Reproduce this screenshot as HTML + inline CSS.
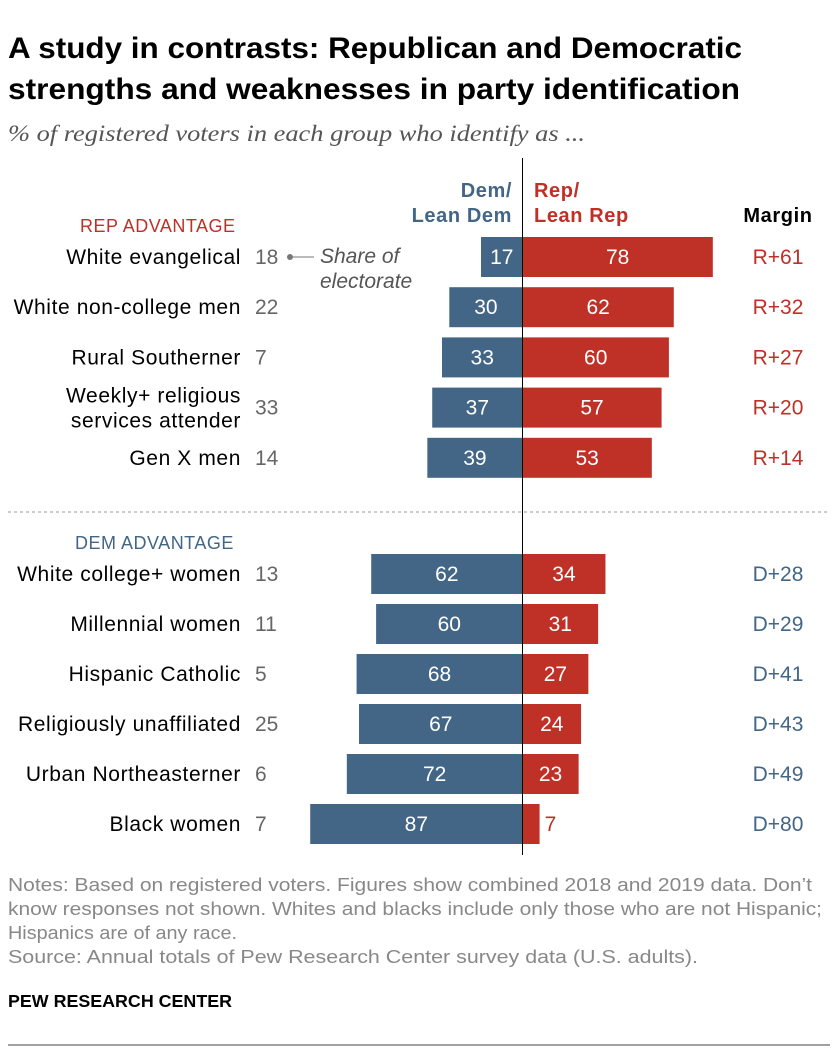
<!DOCTYPE html>
<html><head><meta charset="utf-8"><style>
body{margin:0;background:#fff;width:840px;height:1052px;overflow:hidden;font-family:"Liberation Sans",sans-serif}
</style></head><body>
<svg width="840" height="1052" xmlns="http://www.w3.org/2000/svg" id="chart">
<text x="8" y="58" font-size="30" font-weight="bold" fill="#000" textLength="734" lengthAdjust="spacingAndGlyphs">A study in contrasts: Republican and Democratic</text>
<text x="8" y="99" font-size="30" font-weight="bold" fill="#000" textLength="732" lengthAdjust="spacingAndGlyphs">strengths and weaknesses in party identification</text>
<text x="8" y="141" font-size="23" font-style="italic" fill="#555" font-family="Liberation Serif,serif" textLength="577" lengthAdjust="spacingAndGlyphs">% of registered voters in each group who identify as ...</text>
<text x="512" y="197" font-size="20" font-weight="bold" letter-spacing="0.6" fill="#436686" text-anchor="end">Dem/</text>
<text x="512" y="222" font-size="20" font-weight="bold" letter-spacing="0.6" fill="#436686" text-anchor="end">Lean Dem</text>
<text x="534" y="197" font-size="20" font-weight="bold" letter-spacing="0.6" fill="#bf3027">Rep/</text>
<text x="534" y="222" font-size="20" font-weight="bold" letter-spacing="0.6" fill="#bf3027">Lean Rep</text>
<text x="778" y="222" font-size="20" font-weight="bold" letter-spacing="0.6" fill="#000" text-anchor="middle">Margin</text>
<text x="80" y="232" font-size="18" letter-spacing="0.5" fill="#bf3027">REP ADVANTAGE</text>
<text x="75" y="549" font-size="18" letter-spacing="0.5" fill="#436686">DEM ADVANTAGE</text>
<line x1="8" y1="512" x2="830" y2="512" stroke="#999" stroke-dasharray="3,3"/>
<circle cx="290" cy="257" r="3" fill="#777"/>
<line x1="293" y1="257" x2="314" y2="257" stroke="#777"/>
<text x="320" y="263" font-size="21" font-style="italic" fill="#555">Share of</text>
<text x="320" y="288" font-size="21" font-style="italic" fill="#555">electorate</text>
<g id="bars"></g>
<line x1="522.5" y1="158" x2="522.5" y2="855" stroke="#000" stroke-width="1"/>
<line x1="8" y1="1045" x2="830" y2="1045" stroke="#444"/>
<text x="8" y="891" font-size="18.5" fill="#888" textLength="804" lengthAdjust="spacingAndGlyphs">Notes: Based on registered voters. Figures show combined 2018 and 2019 data. Don’t</text>
<text x="8" y="915" font-size="18.5" fill="#888" textLength="814" lengthAdjust="spacingAndGlyphs">know responses not shown. Whites and blacks include only those who are not Hispanic;</text>
<text x="8" y="939" font-size="18.5" fill="#888" textLength="229" lengthAdjust="spacingAndGlyphs">Hispanics are of any race.</text>
<text x="8" y="963" font-size="18.5" fill="#888" textLength="690" lengthAdjust="spacingAndGlyphs">Source: Annual totals of Pew Research Center survey data (U.S. adults).</text>
<text x="8" y="1007" font-size="17.5" font-weight="bold" fill="#000" textLength="224" lengthAdjust="spacingAndGlyphs">PEW RESEARCH CENTER</text>
</svg>
<script>
const groups=["White evangelical","White non-college men","Rural Southerner","Weekly+ religious|services attender","Gen X men","White college+ women","Millennial women","Hispanic Catholic","Religiously unaffiliated","Urban Northeasterner","Black women"];
const shares=[18,22,7,33,14,13,11,5,25,6,7];
const dem=[17,30,33,37,39,62,60,68,67,72,87];
const rep=[78,62,60,57,53,34,31,27,24,23,7];
const margins=["R+61","R+32","R+27","R+20","R+14","D+28","D+29","D+41","D+43","D+49","D+80"];
const NS="http://www.w3.org/2000/svg";
const g=document.getElementById('bars');
const cx=522.5, k=2.44;
function xs(v){return v*k;}
function rowTop(i){return i<5?237+i*50.2:554+(i-5)*50;}
function mk(tag,a,txt){const e=document.createElementNS(NS,tag);for(const n in a)e.setAttribute(n,a[n]);if(txt!=null)e.textContent=txt;g.appendChild(e);return e;}
groups.forEach((name,i)=>{
  const y=rowTop(i),h=40,my=y+h/2+7;
  const isRep=i<5;
  let r=mk('rect',{x:cx-xs(dem[i]),y:y,width:xs(dem[i]),height:h,fill:'#436686'});
  
  
  r=mk('rect',{x:cx,y:y,width:xs(rep[i]),height:h,fill:'#bf3027'});
  
  
  let t=mk('text',{x:cx-xs(dem[i])/2,y:my,'font-size':21,fill:'#fff','text-anchor':'middle'},dem[i]);
  
  
  const small=xs(rep[i])<30;
  t=mk('text',{x:small?cx+xs(rep[i])+5:cx+xs(rep[i])/2,y:my,'font-size':21,fill:small?'#bf3027':'#fff','text-anchor':small?'start':'middle'},rep[i]);
  
  
  const parts=name.split('|');
  parts.forEach((p,j)=>{
    const yy=parts.length>1?my-12+j*25:my;
    t=mk('text',{x:241,y:yy,'font-size':21,'letter-spacing':0.6,fill:'#000','text-anchor':'end'},p);
    
    
  });
  t=mk('text',{x:255,y:my,'font-size':21,fill:'#666'},shares[i]);
  
  
  t=mk('text',{x:778,y:my,'font-size':21,fill:isRep?'#bf3027':'#436686','text-anchor':'middle'},margins[i]);
  
  
});
</script>
</body></html>
